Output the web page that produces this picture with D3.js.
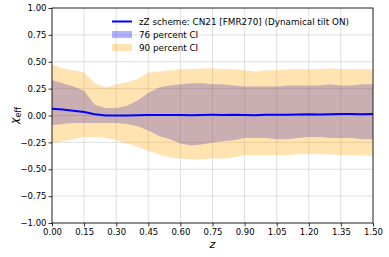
<!DOCTYPE html>
<html>
<head>
<meta charset="utf-8">
<script src="https://cdn.jsdelivr.net/npm/d3@7"></script>
<style>
body { margin: 0; background: #fff; }
text { font-family: "DejaVu Sans", sans-serif; }
</style>
</head>
<body>
<script>
//Width and height
var w = 389;
var h = 257;
var margin = {top: 8, right: 16, bottom: 34, left: 52};

//Redshift grid
var zVals = [0, 0.05, 0.10, 0.15, 0.20, 0.25, 0.30, 0.35, 0.40, 0.45, 0.50, 0.55, 0.60, 0.65, 0.70, 0.75,
             0.80, 0.85, 0.90, 0.95, 1.00, 1.05, 1.10, 1.15, 1.20, 1.25, 1.30, 1.35, 1.40, 1.45, 1.50];

//Median chi_eff
var median = [0.062, 0.055, 0.045, 0.032, 0.012, 0.000, 0.001, 0.000, 0.002, 0.004, 0.005, 0.004, 0.004, 0.003, 0.005, 0.006,
              0.005, 0.006, 0.004, 0.003, 0.006, 0.008, 0.007, 0.010, 0.011, 0.009, 0.012, 0.013, 0.014, 0.012, 0.013];

//76 percent interval
var ci76Upper = [0.33, 0.30, 0.27, 0.23, 0.10, 0.07, 0.07, 0.09, 0.14, 0.21, 0.26, 0.28, 0.29, 0.30, 0.30, 0.29,
                 0.29, 0.28, 0.27, 0.27, 0.27, 0.27, 0.28, 0.28, 0.28, 0.28, 0.29, 0.28, 0.28, 0.29, 0.29];
var ci76Lower = [-0.09, -0.08, -0.07, -0.07, -0.07, -0.07, -0.07, -0.08, -0.10, -0.14, -0.19, -0.22, -0.26, -0.28, -0.27, -0.25,
                 -0.24, -0.23, -0.21, -0.21, -0.21, -0.22, -0.22, -0.21, -0.20, -0.20, -0.21, -0.21, -0.21, -0.22, -0.22];

//90 percent interval
var ci90Upper = [0.47, 0.44, 0.42, 0.40, 0.30, 0.26, 0.29, 0.31, 0.34, 0.40, 0.41, 0.42, 0.43, 0.43, 0.44, 0.44,
                 0.43, 0.43, 0.42, 0.41, 0.42, 0.42, 0.43, 0.43, 0.43, 0.43, 0.44, 0.43, 0.43, 0.43, 0.43];
var ci90Lower = [-0.26, -0.24, -0.22, -0.20, -0.20, -0.21, -0.23, -0.26, -0.29, -0.33, -0.36, -0.39, -0.40, -0.41, -0.41, -0.40,
                 -0.40, -0.39, -0.37, -0.37, -0.37, -0.37, -0.37, -0.36, -0.36, -0.36, -0.36, -0.37, -0.37, -0.37, -0.38];

//Tick values
var xTicks = [0, 0.15, 0.30, 0.45, 0.60, 0.75, 0.90, 1.05, 1.20, 1.35, 1.50];
var yTicks = [-1, -0.75, -0.5, -0.25, 0, 0.25, 0.5, 0.75, 1];

var legendLabels = ["zZ scheme: CN21 [FMR270] (Dynamical tilt ON)", "76 percent CI", "90 percent CI"];

var x = d3.scaleLinear().domain([0, 1.5]).range([margin.left, w - margin.right]);
var y = d3.scaleLinear().domain([-1, 1]).range([h - margin.bottom, margin.top]);

var svg = d3.select("body")
            .append("svg")
            .attr("width", w)
            .attr("height", h);

//Grid
svg.append("g")
   .selectAll("line.gx")
   .data(xTicks)
   .enter()
   .append("line")
   .attr("x1", function(d) { return x(d); })
   .attr("x2", function(d) { return x(d); })
   .attr("y1", margin.top)
   .attr("y2", h - margin.bottom)
   .attr("stroke", "#b0b0b0")
   .attr("stroke-opacity", 0.5)
   .attr("stroke-width", 0.8);

svg.append("g")
   .selectAll("line.gy")
   .data(yTicks)
   .enter()
   .append("line")
   .attr("x1", margin.left)
   .attr("x2", w - margin.right)
   .attr("y1", function(d) { return y(d); })
   .attr("y2", function(d) { return y(d); })
   .attr("stroke", "#b0b0b0")
   .attr("stroke-opacity", 0.5)
   .attr("stroke-width", 0.8);

//Bands
var rows = zVals.map(function(z, i) {
    return {z: z, m: median[i], u76: ci76Upper[i], l76: ci76Lower[i], u90: ci90Upper[i], l90: ci90Lower[i]};
});

var area76 = d3.area()
               .x(function(d) { return x(d.z); })
               .y0(function(d) { return y(d.l76); })
               .y1(function(d) { return y(d.u76); });

var area90 = d3.area()
               .x(function(d) { return x(d.z); })
               .y0(function(d) { return y(d.l90); })
               .y1(function(d) { return y(d.u90); });

svg.append("path")
   .datum(rows)
   .attr("d", area76)
   .attr("fill", "blue")
   .attr("fill-opacity", 0.3);

svg.append("path")
   .datum(rows)
   .attr("d", area90)
   .attr("fill", "orange")
   .attr("fill-opacity", 0.3);

var line = d3.line()
             .x(function(d) { return x(d.z); })
             .y(function(d) { return y(d.m); });

svg.append("path")
   .datum(rows)
   .attr("d", line)
   .attr("fill", "none")
   .attr("stroke", "blue")
   .attr("stroke-width", 2);

//Axes
var xAxis = d3.axisBottom(x)
              .tickValues(xTicks)
              .tickFormat(d3.format(".2f"))
              .tickSizeOuter(0)
              .tickSize(3.5)
              .tickPadding(2);

var yAxis = d3.axisLeft(y)
              .tickValues(yTicks)
              .tickFormat(d3.format(".2f"))
              .tickSizeOuter(0)
              .tickSize(3.5)
              .tickPadding(2);

var gx = svg.append("g")
            .attr("transform", "translate(0," + (h - margin.bottom) + ")")
            .call(xAxis);
var gy = svg.append("g")
            .attr("transform", "translate(" + margin.left + ",0)")
            .call(yAxis);

[gx, gy].forEach(function(g) {
    g.selectAll("text").attr("font-size", 8.5).attr("fill", "#000")
     .style("font-family", "DejaVu Sans, sans-serif");
    g.selectAll("line").attr("stroke", "#000").attr("stroke-width", 0.8);
    g.select(".domain").remove();
});
gy.selectAll("text").text(function(d) { return d3.format(".2f")(d).replace("-", "\u2212"); });

//Frame
svg.append("rect")
   .attr("x", margin.left)
   .attr("y", margin.top)
   .attr("width", w - margin.left - margin.right)
   .attr("height", h - margin.top - margin.bottom)
   .attr("fill", "none")
   .attr("stroke", "#000")
   .attr("stroke-width", 0.8);

//Axis labels
svg.append("text")
   .attr("x", (margin.left + w - margin.right) / 2)
   .attr("y", 248)
   .attr("text-anchor", "middle")
   .attr("font-size", 11)
   .attr("font-style", "italic")
   .text("z");

var yl = svg.append("text")
            .attr("transform", "translate(18," + y(0) + ") rotate(-90)")
            .attr("text-anchor", "middle")
            .attr("font-size", 11);
yl.append("tspan").attr("font-style", "italic").text("\u03c7");
yl.append("tspan").attr("font-size", 8).attr("dy", 2.5).text("eff");

//Legend
var lg = svg.append("g");
var lx = 112, ly = [21.5, 34.5, 47.5];

lg.append("line")
  .attr("x1", lx).attr("x2", lx + 20)
  .attr("y1", ly[0]).attr("y2", ly[0])
  .attr("stroke", "blue").attr("stroke-width", 2);
lg.append("rect")
  .attr("x", lx).attr("y", ly[1] - 3.5)
  .attr("width", 20).attr("height", 7)
  .attr("fill", "blue").attr("fill-opacity", 0.3);
lg.append("rect")
  .attr("x", lx).attr("y", ly[2] - 3.5)
  .attr("width", 20).attr("height", 7)
  .attr("fill", "orange").attr("fill-opacity", 0.3);

lg.selectAll("text")
  .data(legendLabels)
  .enter()
  .append("text")
  .attr("x", lx + 27)
  .attr("y", function(d, i) { return ly[i] + 3.2; })
  .attr("font-size", 8.8)
  .text(function(d) { return d; });
</script>
</body>
</html>
